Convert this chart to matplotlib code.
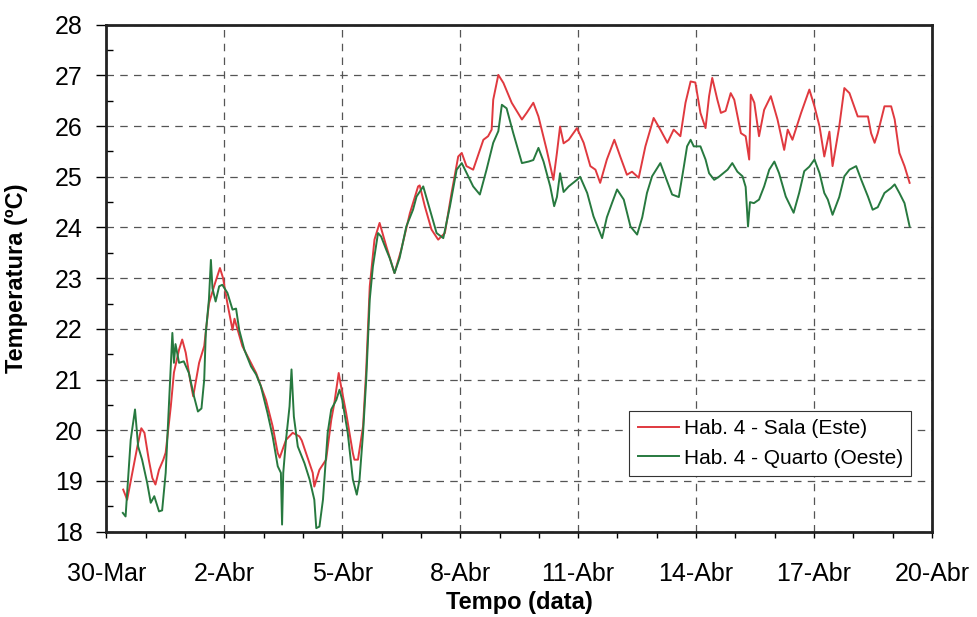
import numpy as np
import matplotlib
matplotlib.use('Agg')
import matplotlib.pyplot as plt
from matplotlib.ticker import MultipleLocator

plt.rcParams['font.family'] = ['Liberation Sans', 'DejaVu Sans']

# days since 30-Mar 00:00
salaDays = [0.43, 0.53, 0.66, 0.79, 0.89, 0.97, 1.08, 1.17, 1.25, 1.34, 1.45, 1.51,
            1.64, 1.72, 1.85, 1.93, 2.02, 2.13, 2.21, 2.36, 2.49, 2.61, 2.74, 2.89,
            2.97, 3.08, 3.21, 3.26, 3.46, 3.81, 4.06, 4.23, 4.36, 4.41, 4.57, 4.74,
            4.91, 4.97, 5.25, 5.29, 5.42, 5.59, 5.72, 5.80, 5.91, 5.97, 6.10, 6.27,
            6.31, 6.40, 6.53, 6.61, 6.70, 6.82, 6.95, 7.12, 7.33, 7.50, 7.72, 7.93,
            7.97, 8.10, 8.27, 8.44, 8.61, 8.78, 8.95, 9.04, 9.16, 9.33, 9.59, 9.71,
            9.80, 9.84, 9.97, 10.10, 10.31, 10.57, 10.69, 10.86, 10.99, 11.20, 11.37,
            11.46, 11.54, 11.63, 11.76, 11.97, 12.14, 12.31, 12.44, 12.56, 12.73,
            12.92, 13.07, 13.24, 13.37, 13.54, 13.71, 13.92, 14.09, 14.27, 14.43,
            14.60, 14.73, 14.86, 14.98, 15.11, 15.24, 15.33, 15.41, 15.54, 15.63,
            15.75, 15.88, 15.97, 16.14, 16.26, 16.35, 16.39, 16.48, 16.60, 16.73,
            16.90, 17.07, 17.24, 17.33, 17.45, 17.67, 17.88, 18.01, 18.14, 18.26,
            18.39, 18.47, 18.64, 18.77, 18.90, 19.11, 19.28, 19.37, 19.45, 19.54,
            19.62, 19.79, 19.96, 20.05, 20.17, 20.30, 20.43]
salaTemp = [18.83, 18.63, 19.16, 19.68, 20.04, 19.95, 19.42, 19.06, 18.93, 19.22, 19.42, 19.56,
            20.47, 21.14, 21.59, 21.79, 21.53, 21.00, 20.67, 21.33, 21.66, 22.50, 22.84, 23.20,
            23.00, 22.50, 21.98, 22.20, 21.66, 21.13, 20.60, 20.08, 19.55, 19.46, 19.81, 19.95,
            19.88, 19.80, 19.16, 18.89, 19.22, 19.42, 20.20, 20.54, 21.13, 20.87, 20.34, 19.55,
            19.42, 19.42, 20.08, 21.20, 22.84, 23.76, 24.09, 23.63, 23.10, 23.56, 24.28, 24.81,
            24.83, 24.42, 23.96, 23.76, 23.89, 24.68, 25.40, 25.47, 25.21, 25.14, 25.73, 25.80,
            25.93, 26.52, 27.01, 26.85, 26.46, 26.13, 26.26, 26.46, 26.19, 25.53, 24.94,
            25.47, 25.99, 25.66, 25.73, 25.96, 25.67, 25.21, 25.14, 24.88, 25.34,
            25.73, 25.40, 25.04, 25.10, 24.98, 25.60, 26.16, 25.93, 25.67, 25.93,
            25.80, 26.46, 26.88, 26.86, 26.26, 25.96, 26.59, 26.95, 26.52, 26.26,
            26.30, 26.65, 26.52, 25.86, 25.80, 25.34, 26.62, 26.46, 25.80, 26.32,
            26.59, 26.13, 25.53, 25.93, 25.73, 26.26, 26.72, 26.39, 25.99, 25.40,
            25.89, 25.21, 25.99, 26.75, 26.65, 26.19, 26.19, 26.19, 25.86, 25.67,
            25.86, 26.39, 26.39, 26.13, 25.47, 25.21, 24.88]

quartoDays = [0.42, 0.49, 0.62, 0.73, 0.81, 0.91, 1.04, 1.13, 1.22, 1.34, 1.42, 1.51,
              1.59, 1.68, 1.72, 1.76, 1.85, 1.97, 2.10, 2.23, 2.33, 2.42, 2.49, 2.53,
              2.61, 2.66, 2.70, 2.78, 2.87, 2.95, 3.08, 3.21, 3.30, 3.38, 3.51, 3.68,
              3.81, 3.93, 4.10, 4.23, 4.36, 4.44, 4.47, 4.50, 4.57, 4.66, 4.71, 4.77,
              4.87, 5.04, 5.17, 5.29, 5.34, 5.42, 5.51, 5.63, 5.72, 5.85, 5.93, 6.00,
              6.14, 6.27, 6.37, 6.44, 6.53, 6.61, 6.70, 6.78, 6.91, 6.99, 7.12, 7.21,
              7.33, 7.46, 7.63, 7.80, 7.89, 8.06, 8.23, 8.40, 8.57, 8.74, 8.91, 9.04,
              9.16, 9.33, 9.50, 9.67, 9.84, 9.97, 10.06, 10.18, 10.35, 10.57, 10.74,
              10.86, 10.99, 11.12, 11.29, 11.39, 11.46, 11.54, 11.63, 11.76, 11.97,
              12.05, 12.23, 12.39, 12.61, 12.73, 12.86, 12.99, 13.16, 13.33, 13.50,
              13.63, 13.75, 13.88, 14.09, 14.27, 14.39, 14.56, 14.69, 14.77, 14.86,
              14.94, 15.03, 15.11, 15.24, 15.33, 15.46, 15.58, 15.80, 15.92, 16.05,
              16.18, 16.26, 16.32, 16.37, 16.47, 16.60, 16.73, 16.86, 16.99, 17.11,
              17.28, 17.48, 17.62, 17.75, 17.88, 18.01, 18.14, 18.26, 18.35, 18.47,
              18.64, 18.77, 18.90, 19.07, 19.20, 19.37, 19.49, 19.62, 19.79, 19.96,
              20.05, 20.17, 20.30, 20.43]
quartoTemp = [18.37, 18.30, 19.81, 20.41, 19.68, 19.42, 18.96, 18.57, 18.70, 18.40, 18.42, 19.16,
              20.47, 21.92, 21.33, 21.70, 21.33, 21.36, 21.13, 20.67, 20.37, 20.43, 21.00, 21.92,
              22.58, 23.36, 22.80, 22.54, 22.84, 22.87, 22.71, 22.38, 22.40, 21.98, 21.59, 21.26,
              21.10, 20.87, 20.34, 19.88, 19.29, 19.16, 18.14, 19.16, 19.81, 20.47, 21.20, 20.27,
              19.68, 19.35, 19.03, 18.63, 18.07, 18.10, 18.63, 19.95, 20.41, 20.60, 20.80, 20.60,
              19.95, 19.03, 18.73, 19.03, 19.95, 21.00, 22.58, 23.23, 23.89, 23.82, 23.56, 23.39,
              23.10, 23.40, 24.02, 24.35, 24.61, 24.81, 24.35, 23.89, 23.79, 24.42, 25.14, 25.27,
              25.08, 24.81, 24.65, 25.14, 25.67, 25.90, 26.42, 26.35, 25.86, 25.27, 25.30,
              25.33, 25.57, 25.30, 24.81, 24.42, 24.60, 25.07, 24.70, 24.81, 24.94,
              25.00, 24.68, 24.22, 23.79, 24.20, 24.48, 24.75, 24.55, 24.02, 23.86,
              24.20, 24.68, 25.01, 25.27, 24.90, 24.65, 24.60, 25.21, 25.60, 25.73,
              25.60, 25.60, 25.60, 25.34, 25.07, 24.94, 25.00, 25.14, 25.27, 25.10,
              25.01, 24.80, 24.02, 24.50, 24.48, 24.55, 24.81, 25.14, 25.30, 25.07,
              24.61, 24.29, 24.68, 25.11, 25.20, 25.34, 25.07, 24.68, 24.55, 24.25,
              24.60, 25.01, 25.14, 25.21, 24.94, 24.61, 24.35, 24.40, 24.68, 24.78,
              24.85, 24.68, 24.48, 24.02]

tickDays = [0, 3, 6, 9, 12, 15, 18, 21]
tickLabels = ['30-Mar', '2-Abr', '5-Abr', '8-Abr', '11-Abr', '14-Abr', '17-Abr', '20-Abr']
seriesNames = ['Hab. 4 - Sala (Este)', 'Hab. 4 - Quarto (Oeste)']

fig = plt.figure(figsize=(9.78, 6.17), dpi=100)
ax = fig.add_axes([0.1087, 0.1383, 0.8443, 0.8217])

ax.plot(salaDays, salaTemp, color='#e0393f', lw=1.4, label=seriesNames[0])
ax.plot(quartoDays, quartoTemp, color='#27793f', lw=1.4, label=seriesNames[1])

ax.set_xlim(0, 21)
ax.set_ylim(18, 28)
ax.set_xticks(tickDays)
ax.set_xticklabels(tickLabels)
ax.xaxis.set_minor_locator(MultipleLocator(1))
ax.yaxis.set_major_locator(MultipleLocator(1))
ax.yaxis.set_minor_locator(MultipleLocator(0.5))

ax.grid(True, which='major', color='#555555', ls=(0, (6, 5)), lw=0.9)
for s in ax.spines.values():
    s.set_linewidth(2.0)
    s.set_color('#222222')

ax.tick_params(axis='x', which='both', direction='out', length=4, width=1, labelsize=18, pad=18)
ax.tick_params(axis='y', which='major', direction='out', length=7, width=1, labelsize=18, pad=10)
ax.tick_params(axis='y', which='minor', direction='in', length=5, width=1)

ax.set_xlabel('Tempo (data)', fontsize=17, fontweight='bold')
ax.set_ylabel('Temperatura (ºC)', fontsize=17, fontweight='bold')
ax.xaxis.set_label_coords(0.5, -0.118)
ax.yaxis.set_label_coords(-0.095, 0.5)

leg = ax.legend(loc='lower right', bbox_to_anchor=(0.9745, 0.11), fontsize=15,
                frameon=True, fancybox=False, edgecolor='#333333', framealpha=1,
                handlelength=2.0, handletextpad=0.2, borderpad=0.4, labelspacing=0.5,
                borderaxespad=0)
leg.get_frame().set_linewidth(0.8)

fig.savefig('out.png', dpi=100)
